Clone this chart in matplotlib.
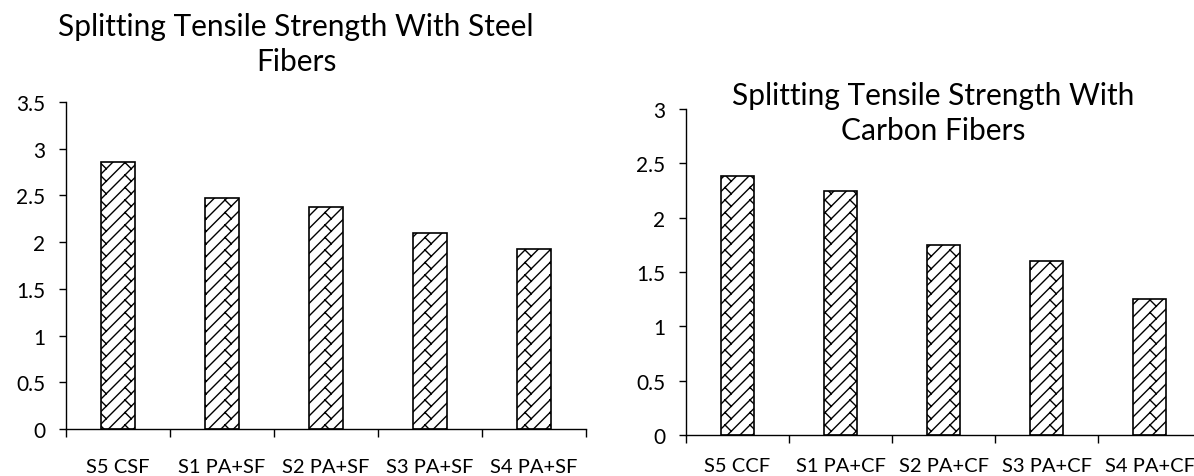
import warnings
import numpy as np
import matplotlib
matplotlib.use("Agg")
import matplotlib.pyplot as plt
from matplotlib import hatch as mhatch
from matplotlib.path import Path

warnings.filterwarnings("ignore", category=matplotlib.MatplotlibDeprecationWarning)

# Splitting tensile strength (MPa) per mix
steel_labels = ["S5 CSF", "S1 PA+SF", "S2 PA+SF", "S3 PA+SF", "S4 PA+SF"]
steel_values = [2.86, 2.47, 2.38, 2.10, 1.93]

carbon_labels = ["S5 CCF", "S1 PA+CF", "S2 PA+CF", "S3 PA+CF", "S4 PA+CF"]
carbon_values = [2.38, 2.25, 1.75, 1.60, 1.25]


class DiagonalBrickHatch(mhatch.HatchPatternBase):
    """'/' lines joined by short staggered rungs (Excel style diagonal brick)."""

    def __init__(self, hatch, density):
        n = hatch.count('b') * 8
        segs = []
        if n:
            m = n // 2
            h = 1.0 / (2 * n)
            for k in range(-n, n + 1):
                c = k / n
                segs.append(((c, 0.0), (1.0 + c, 1.0)))
                for j in range(-1, m + 1):
                    t = (j + 0.5 * (k % 2)) / m
                    segs.append(((t + c, t), (t + c + h, t - h)))
        self.segs = segs
        self.num_vertices = 2 * len(segs)

    def set_vertices_and_codes(self, vertices, codes):
        for i, (a, b) in enumerate(self.segs):
            vertices[2 * i] = a
            vertices[2 * i + 1] = b
            codes[2 * i] = Path.MOVETO
            codes[2 * i + 1] = Path.LINETO


mhatch._hatch_types.append(DiagonalBrickHatch)

plt.rcParams['font.family'] = ['Lato', 'DejaVu Sans']
plt.rcParams['hatch.linewidth'] = 1.0
plt.rcParams['hatch.color'] = 'black'

W, H = 1194, 477
fig = plt.figure(figsize=(W / 100, H / 100), dpi=100)


def draw_panel(rect, labels, values, ymax, bar_width, label_pad):
    ax = fig.add_axes(rect)
    x = np.arange(len(values))
    ax.bar(x, values, width=bar_width, color='white', edgecolor='black',
           linewidth=1.2, hatch='b', zorder=2)
    ax.set_xlim(-0.5, len(values) - 0.5)
    ax.set_ylim(0, ymax)
    yt = np.arange(0, ymax + 0.01, 0.5)
    ax.set_yticks(yt)
    ax.set_yticklabels([f"{v:g}" for v in yt])
    # boundary ticks on the category axis, labels at category centres
    ax.set_xticks(np.arange(len(values) + 1) - 0.5)
    ax.set_xticklabels([])
    ax.set_xticks(x, minor=True)
    ax.set_xticklabels(labels, minor=True)
    ax.tick_params(axis='x', which='major', direction='out', length=5.5, width=1.0)
    ax.tick_params(axis='x', which='minor', length=0, pad=label_pad, labelsize=14.5)
    ax.tick_params(axis='y', direction='out', length=5, width=1.0, pad=10,
                   labelsize=15)
    for side in ('top', 'right'):
        ax.spines[side].set_visible(False)
    for side in ('left', 'bottom'):
        ax.spines[side].set_linewidth(1.0)
        ax.spines[side].set_color('black')
    return ax


draw_panel([66 / W, 1 - 430 / H, 520 / W, 327 / H],
           steel_labels, steel_values, 3.5, 0.33, 21)
draw_panel([686 / W, 1 - 436 / H, 515.5 / W, 326 / H],
           carbon_labels, carbon_values, 3.0, 0.32, 16)

fig.text(296 / W, 1 - 13 / H, "Splitting Tensile Strength With Steel\nFibers",
         ha='center', va='top', fontsize=21.5, linespacing=1.3,
         multialignment='center')
fig.text(933 / W, 1 - 82 / H, "Splitting Tensile Strength With\nCarbon Fibers",
         ha='center', va='top', fontsize=21.5, linespacing=1.3,
         multialignment='center')

fig.savefig("out.png", dpi=100)
